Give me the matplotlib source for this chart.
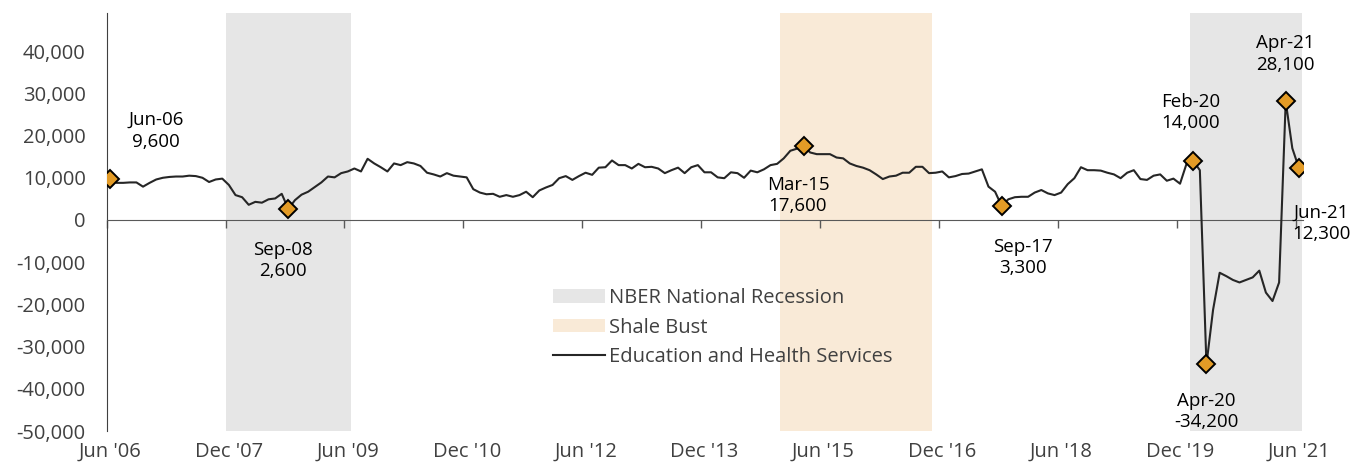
import matplotlib
matplotlib.use('Agg')
import matplotlib.pyplot as plt
from matplotlib.patches import Patch
from matplotlib.lines import Line2D
from matplotlib.ticker import FuncFormatter, FixedLocator
import pandas as pd

plt.rcParams['font.family'] = ['Open Sans', 'DejaVu Sans']

# ---------------- data ----------------
start_month = '2006-06-01'
values = [
    9600, 8800, 8800, 8900, 8900, 7900, 8800, 9600, 10000, 10200, 10300, 10300,
    10500, 10400, 10000, 9000, 9600, 9800, 8300, 5900, 5400, 3600, 4300, 4100,
    4900, 5100, 6200, 2600, 4700, 6000, 6700, 7800, 8900, 10300, 10100, 11100,
    11500, 12200, 11500, 14500, 13400, 12500, 11500, 13400, 13000, 13700, 13400, 12800,
    11200, 10800, 10300, 11100, 10500, 10300, 10100, 7300, 6500, 6100, 6200, 5500,
    5900, 5500, 5900, 6700, 5400, 7000, 7700, 8300, 9900, 10400, 9500, 10400,
    11200, 10700, 12400, 12500, 14100, 13000, 13000, 12200, 13300, 12500, 12600, 12200,
    11100, 11800, 12400, 11100, 12500, 13000, 11300, 11300, 10100, 9900, 11300, 11100,
    10000, 11700, 11300, 12000, 13000, 13300, 14600, 16400, 16900, 17600, 16000, 15600,
    15600, 15600, 14800, 14600, 13400, 12800, 12400, 11800, 10800, 9700, 10300, 10500,
    11200, 11200, 12600, 12600, 11100, 11200, 11500, 10100, 10400, 10900, 11000, 11500,
    12000, 7900, 6700, 3300, 4900, 5400, 5500, 5500, 6500, 7100, 6300, 5900,
    6500, 8500, 9900, 12500, 11800, 11800, 11700, 11200, 10800, 9900, 11200, 11800,
    9700, 9500, 10500, 10800, 9300, 9800, 8600, 13400, 14000, 11800, -34200, -21300,
    -12500, -13300, -14200, -14800, -14200, -13600, -12000, -17200, -19200, -14800, 28100, 17000,
    12300,
]
months = pd.date_range(start_month, periods=len(values), freq='MS')
month_keys = [m.strftime('%Y-%m') for m in months]

tick_labels = ["Jun '06", "Dec '07", "Jun '09", "Dec '10", "Jun '12", "Dec '13",
               "Jun '15", "Dec '16", "Jun '18", "Dec '19", "Jun '21"]
tick_months = ['2006-06', '2007-12', '2009-06', '2010-12', '2012-06', '2013-12',
               '2015-06', '2016-12', '2018-06', '2019-12', '2021-06']

highlight_months = ['2006-06', '2008-09', '2015-03', '2017-09',
                    '2020-02', '2020-04', '2021-04', '2021-06']

recession_periods = [('2007-12', '2009-06'), ('2020-02', '2021-06')]
shale_periods = [('2014-12', '2016-10')]

yticks = [-50000, -40000, -30000, -20000, -10000, 0, 10000, 20000, 30000, 40000]

series_name = 'Education and Health Services'
recession_name = 'NBER National Recession'
shale_name = 'Shale Bust'

# ---------------- styling ----------------
LINE_C = '#262626'
MARK_C = '#E39B26'
REC_C = '#E6E6E6'
SHALE_C = '#F9EAD7'
TXT_C = '#404040'

label_offsets = {  # points
    '2006-06': (33, 35),
    '2008-09': (-4, -37),
    '2015-03': (-4, -36),
    '2017-09': (15, -37),
    '2020-02': (-2, 35),
    '2020-04': (0, -34),
    '2021-04': (0, 34),
    '2021-06': (16, -40),
}

fig = plt.figure(figsize=(13.67, 4.71), dpi=100)
ax = fig.add_axes([0.07805, 0.0849, 0.87505, 0.8871])

x = list(range(len(values)))
pos = {k: i for i, k in enumerate(month_keys)}

for a, b in recession_periods:
    ax.axvspan(pos[a] - 0.5, pos[b] + 0.5, color=REC_C, lw=0, zorder=0)
for a, b in shale_periods:
    ax.axvspan(pos[a] - 0.5, pos[b] + 0.5, color=SHALE_C, lw=0, zorder=0)

ax.plot(x, values, color=LINE_C, lw=1.5, zorder=3)

hx = [pos[m] for m in highlight_months]
hy = [values[pos[m]] for m in highlight_months]
ax.plot(hx, hy, ls='none', marker='D', ms=9.5, mfc=MARK_C, mec='black',
        mew=1.4, zorder=4)

for m in highlight_months:
    i = pos[m]
    lab = months[i].strftime('%b-%y') + '\n' + f'{values[i]:,}'
    ax.annotate(lab, xy=(i, values[i]), xytext=label_offsets[m],
                textcoords='offset points', ha='center', va='center',
                fontsize=13.5, color='black', linespacing=1.25, zorder=5)

ax.set_xlim(-0.5, 180.6)
ax.set_ylim(-50000, 49000)

ax.spines['top'].set_visible(False)
ax.spines['right'].set_visible(False)
ax.spines['bottom'].set_position(('data', 0))
ax.spines['bottom'].set_color('#595959')
ax.spines['left'].set_color('#404040')
ax.spines['left'].set_bounds(-50000, 49000)

ax.xaxis.set_major_locator(FixedLocator([pos[m] for m in tick_months]))
ax.set_xticklabels(tick_labels)
ax.xaxis.set_minor_locator(FixedLocator([pos[m] - 0.5 for m in tick_months]))
ax.tick_params(axis='x', which='major', length=0, pad=160, labelsize=14.5,
               labelcolor=TXT_C)
ax.tick_params(axis='x', which='minor', length=6, width=1, color='#595959',
               direction='out')

ax.set_yticks(yticks)
ax.yaxis.set_major_formatter(FuncFormatter(lambda v, p: f'{int(v):,}'))
ax.tick_params(axis='y', length=0, pad=15, labelsize=14.5, labelcolor=TXT_C)

handles = [Patch(facecolor=REC_C, edgecolor='none', label=recession_name),
           Patch(facecolor=SHALE_C, edgecolor='none', label=shale_name),
           Line2D([], [], color=LINE_C, lw=1.5, label=series_name)]
leg = fig.legend(handles=handles, loc='upper left',
                 bbox_to_anchor=(553 / 1367, 1 - 288 / 471),
                 frameon=False, fontsize=14.5, handlelength=2.6,
                 handleheight=0.65, handletextpad=0.2, labelspacing=0.48,
                 borderpad=0, borderaxespad=0)
for t in leg.get_texts():
    t.set_color(TXT_C)

fig.savefig('out.png', dpi=100)
